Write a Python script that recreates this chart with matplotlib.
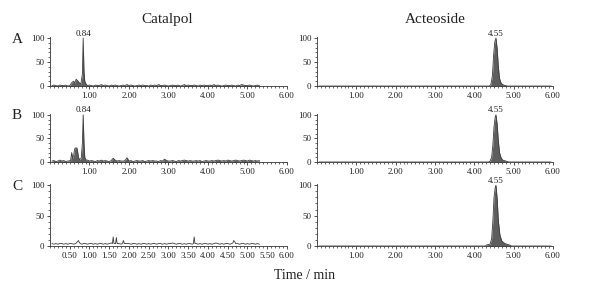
import numpy as np
import matplotlib.pyplot as plt
from matplotlib.ticker import MultipleLocator

plt.rcParams['font.family'] = ['Liberation Serif', 'DejaVu Serif']

# baseline noise, one value every 0.05 min starting at 0.05 min
noise_a = [1, 2, 1, 0, 2, 1, 1, 2, 0, 1, 2, 1, 3, 1, 2, 0, 1, 2, 1, 2,
           1, 0, 2, 1, 1, 3, 1, 2, 1, 0, 2, 1, 2, 1, 0, 1, 2, 1, 3, 1,
           2, 1, 0, 1, 2, 1, 2, 1, 1, 0, 2, 1, 2, 1, 3, 1, 1, 2, 1, 0,
           1, 2, 1, 1, 2, 0, 1, 3, 1, 2, 1, 1, 2, 1, 0, 2, 1, 2, 1, 1,
           2, 1, 3, 1, 2, 1, 0, 1, 2, 1, 1, 2, 1, 0, 2, 1, 3, 2, 1, 1,
           2, 1, 0, 1, 2, 1]
noise_b = [2, 3, 1, 2, 4, 2, 3, 1, 2, 3, 2, 4, 2, 3, 1, 2, 3, 2, 4, 2,
           3, 2, 1, 3, 2, 4, 2, 3, 2, 1, 3, 2, 4, 2, 3, 2, 2, 3, 5, 2,
           3, 1, 2, 3, 2, 2, 3, 1, 2, 3, 2, 3, 2, 2, 1, 3, 2, 4, 3, 2,
           2, 3, 2, 1, 3, 2, 3, 4, 3, 2, 3, 2, 2, 3, 2, 3, 1, 2, 3, 2,
           2, 3, 2, 3, 4, 3, 2, 3, 2, 4, 3, 2, 3, 4, 3, 2, 3, 4, 3, 2,
           4, 3, 2, 3, 2, 3]
noise_c = [4, 3, 4, 3, 4, 4, 3, 4, 3, 4, 4, 3, 4, 5, 4, 3, 4, 4, 3, 4,
           4, 3, 4, 3, 4, 4, 3, 4, 3, 4, 5, 4, 3, 4, 4, 3, 4, 3, 4, 4,
           3, 4, 4, 3, 4, 3, 4, 4, 3, 4, 3, 4, 4, 3, 4, 4, 3, 4, 3, 4,
           4, 5, 4, 3, 4, 4, 3, 4, 3, 4, 4, 3, 4, 4, 3, 4, 3, 4, 4, 3,
           4, 3, 4, 5, 4, 3, 4, 3, 4, 4, 3, 4, 4, 3, 4, 3, 4, 4, 3, 4,
           3, 4, 4, 3, 4, 3]

# catalpol peaks (time, relative abundance)
cat_a_pt = [0.56, 0.60, 0.63, 0.66, 0.69, 0.72, 0.75, 0.78, 0.82, 0.84, 0.86, 0.88, 0.92]
cat_a_py = [8, 10, 6, 14, 12, 9, 6, 4, 25, 100, 30, 10, 3]
cat_b_pt = [0.52, 0.55, 0.57, 0.60, 0.62, 0.64, 0.66, 0.68, 0.70, 0.72, 0.75, 0.79,
            0.82, 0.84, 0.86, 0.88, 0.91, 1.60, 1.95, 2.90]
cat_b_py = [3, 20, 8, 14, 26, 30, 29, 30, 22, 10, 5, 8, 40, 100, 40, 10, 4, 8, 9, 6]
cat_c_pt = [0.68, 0.72, 0.75, 1.58, 1.60, 1.62, 1.66, 1.68, 1.70, 1.83, 1.86, 1.88,
            3.63, 3.65, 3.67, 4.63, 4.65, 4.68, 4.70]
cat_c_py = [6, 9, 5, 4, 15, 4, 4, 14, 4, 4, 9, 4, 4, 15, 4, 5, 9, 7, 4]

# acteoside traces
act_a_t = [0.05, 4.38, 4.42, 4.46, 4.49, 4.52, 4.55, 4.58, 4.61, 4.64, 4.68, 4.72, 4.78, 4.85, 5.95]
act_a_y = [0, 0, 3, 22, 65, 92, 100, 78, 40, 16, 6, 3, 1, 0, 0]
act_b_t = [0.05, 4.36, 4.40, 4.44, 4.47, 4.50, 4.53, 4.55, 4.58, 4.61, 4.64, 4.68, 4.72, 4.80, 4.88, 5.95]
act_b_y = [0, 0, 2, 10, 35, 75, 95, 100, 80, 45, 20, 9, 4, 2, 0, 0]
act_c_t = [0.05, 4.28, 4.32, 4.40, 4.44, 4.47, 4.50, 4.53, 4.55, 4.58, 4.61, 4.65, 4.70, 4.78, 4.88, 4.95, 5.95]
act_c_y = [0, 0, 2, 3, 12, 40, 80, 96, 100, 78, 42, 18, 8, 4, 2, 0, 0]

peak_labels = ['0.84', '4.55']
rows = ['A', 'B', 'C']

line_col = '#3c3c3c'
fill_col = '#5e5e5e'
txt_col = '#222222'


def build_trace(noise, pk_t, pk_y, t0=0.05, dt=0.05):
    t = t0 + dt * np.arange(len(noise))
    pk_t = np.asarray(pk_t)
    d = np.min(np.abs(t[:, None] - pk_t[None, :]), axis=1)
    keep = d > 0.025
    tt = np.concatenate([t[keep], pk_t])
    yy = np.concatenate([np.asarray(noise)[keep], pk_y])
    order = np.argsort(tt)
    return tt[order], yy[order]


def style_axis(ax, half=False):
    ax.set_xlim(0, 6)
    ax.set_ylim(0, 102)
    for s in ['top', 'right']:
        ax.spines[s].set_visible(False)
    for s in ['left', 'bottom']:
        ax.spines[s].set_linewidth(0.6)
        ax.spines[s].set_color('#333333')
    if half:
        ax.set_xticks(np.arange(0.5, 6.01, 0.5))
    else:
        ax.set_xticks(np.arange(1, 6.01, 1))
    ax.xaxis.set_major_formatter(lambda v, p: '%.2f' % v)
    ax.xaxis.set_minor_locator(MultipleLocator(0.1))
    ax.set_yticks([0, 50, 100])
    ax.yaxis.set_minor_locator(MultipleLocator(10))
    ax.tick_params(which='major', length=2, width=0.6, labelsize=6.5, pad=2,
                   color='#333333', labelcolor=txt_col)
    ax.tick_params(which='minor', length=1.2, width=0.5, color='#333333')


fig = plt.figure(figsize=(5.91, 2.83), dpi=100)
fig.patch.set_facecolor('white')

rects = [(0.696, 0.173), (0.4276, 0.170), (0.1307, 0.219)]
cat_traces = [build_trace(noise_a, cat_a_pt, cat_a_py),
              build_trace(noise_b, cat_b_pt, cat_b_py),
              build_trace(noise_c, cat_c_pt, cat_c_py)]
act_traces = [(act_a_t, act_a_y), (act_b_t, act_b_y), (act_c_t, act_c_y)]

for i, (bottom, height) in enumerate(rects):
    axl = fig.add_axes([0.0846, bottom, 0.401, height])
    axr = fig.add_axes([0.5364, bottom, 0.3993, height])

    t, y = cat_traces[i]
    if i < 2:
        axl.fill_between(t, 0, y, color=fill_col, lw=0)
    axl.plot(t, y, color=line_col, lw=0.6)
    style_axis(axl, half=(i == 2))
    if i < 2:
        axl.text(0.84, 101, peak_labels[0], ha='center', va='bottom',
                 fontsize=6.5, color=txt_col)

    t, y = act_traces[i]
    axr.fill_between(t, 0, y, color=fill_col, lw=0)
    axr.plot(t, y, color=line_col, lw=0.6)
    style_axis(axr)
    axr.text(4.55, 101, peak_labels[1], ha='center', va='bottom',
             fontsize=6.5, color=txt_col)

    fig.text(12 / 591, bottom + height * 0.96, rows[i], fontsize=11,
             va='center', color=txt_col)

fig.text(0.283, 0.93, 'Catalpol', ha='center', va='center', fontsize=11, color=txt_col)
fig.text(0.736, 0.93, 'Acteoside', ha='center', va='center', fontsize=11, color=txt_col)
fig.text(0.516, 0.028, 'Time / min', ha='center', va='center', fontsize=10, color=txt_col)

fig.savefig('out.png', dpi=100)
